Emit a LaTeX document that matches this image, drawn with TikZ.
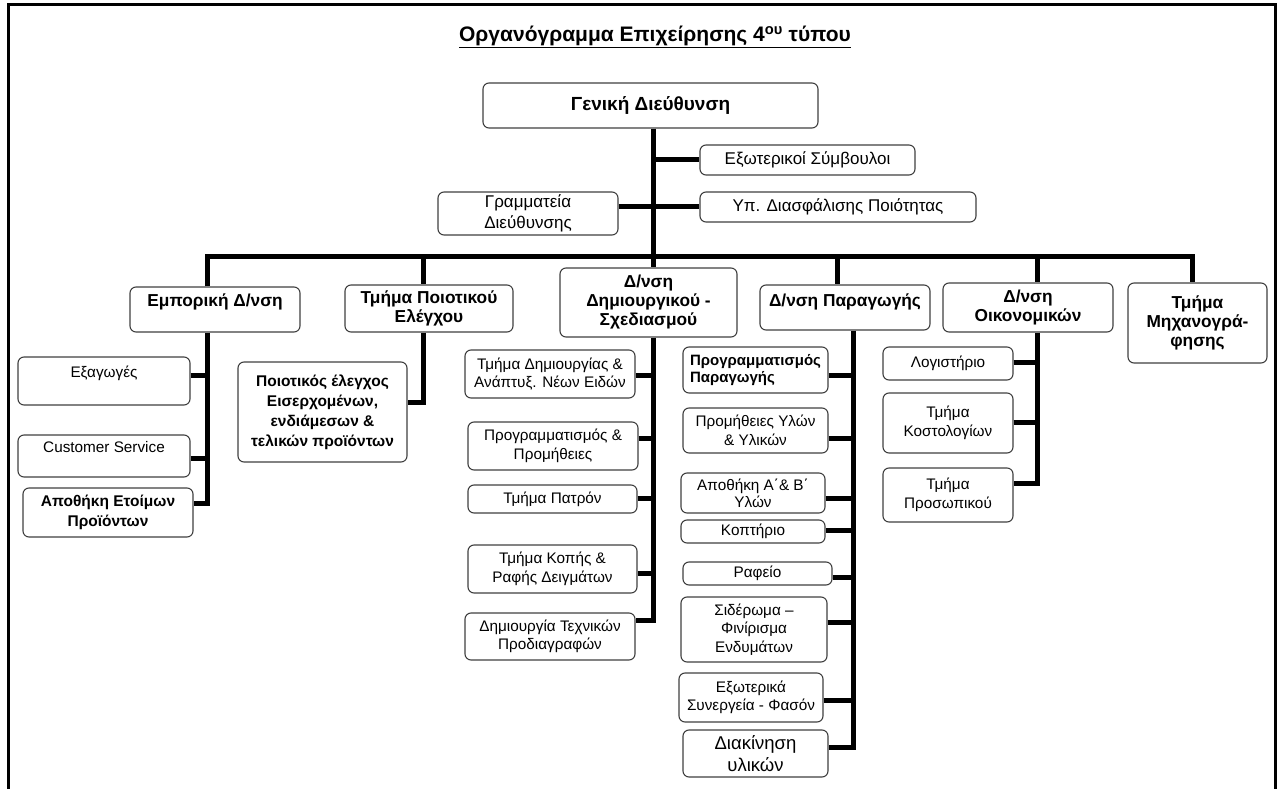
\documentclass[tikz,border=0pt]{standalone}
\usepackage{fontspec}
\setmainfont{Liberation Sans}
\begin{document}
\begin{tikzpicture}[
    x=1pt, y=-1pt,
    box/.style={draw=black!75, line width=1.1pt, rounded corners=6pt, fill=white, inner sep=2pt, align=center, font=\fontsize{15.3}{18.5}\selectfont},
    topbox/.style={box, font=\fontsize{17}{21}\selectfont},
    dept/.style={box, font=\bfseries\fontsize{17.3}{19}\selectfont},
    bunit/.style={box, font=\bfseries\fontsize{15.5}{20}\selectfont},
    conn/.style={line width=5pt},
    uptext/.style={text depth=#1}
  ]

  \useasboundingbox (0,0) rectangle (1278,789);
  \draw[line width=3pt] (8,789) -- (8,5) -- (1275,5) -- (1275,789);

  \node[font=\bfseries\fontsize{21}{24}\selectfont] (title) at (655,37) {\underline{Οργανόγραμμα Επιχείρησης 4\textsuperscript{ου} τύπου}};

  % top of the chart
  \node[box, font=\bfseries\fontsize{19}{21}\selectfont, minimum width=335, minimum height=45] (gd) at (650.5,105.5) {Γενική Διεύθυνση};
  \node[topbox, minimum width=215, minimum height=30] (ext) at (807.5,160) {Εξωτερικοί Σύμβουλοι};
  \node[topbox, minimum width=276, minimum height=30] (ypd) at (838,207) {Υπ. Διασφάλισης Ποιότητας};
  \node[topbox, minimum width=180, minimum height=43] (gram) at (528,213.5) {Γραμματεία\\Διεύθυνσης};

  % departments
  \node[dept, uptext=18.6pt, minimum width=170, minimum height=45] (emp) at (215,309.5) {Εμπορική Δ/νση};
  \node[dept, minimum width=168, minimum height=47] (poi) at (429,308.5) {Τμήμα Ποιοτικού\\Ελέγχου};
  \node[dept, minimum width=177, minimum height=69] (dim) at (648.5,302.5) {Δ/νση\\Δημιουργικού -\\Σχεδιασμού};
  \node[dept, uptext=14.6pt, minimum width=170, minimum height=45] (par) at (845,307.5) {Δ/νση Παραγωγής};
  \node[dept, minimum width=170, minimum height=49] (oik) at (1028,307.5) {Δ/νση\\Οικονομικών};
  \node[dept, minimum width=139, minimum height=80] (mix) at (1197.5,323) {Τμήμα\\Μηχανογρά-\\φησης};

  % Εμπορική Δ/νση
  \node[box, uptext=19pt, minimum width=172, minimum height=48] (exag) at (104,381) {Εξαγωγές};
  \node[box, uptext=18pt, minimum width=172, minimum height=42] (cust) at (104,456) {Customer Service};
  \node[bunit, minimum width=170, minimum height=49] (apoth) at (108,512.5) {Αποθήκη Ετοίμων\\Προϊόντων};

  % Τμήμα Ποιοτικού Ελέγχου
  \node[bunit, minimum width=169, minimum height=100] (pk) at (322.5,412) {Ποιοτικός έλεγχος\\Εισερχομένων,\\ενδιάμεσων \&\\τελικών προϊόντων};

  % Δ/νση Δημιουργικού - Σχεδιασμού
  \node[box, minimum width=170, minimum height=48] (dimi) at (550,374) {Τμήμα Δημιουργίας \&\\Ανάπτυξ. Νέων Ειδών};
  \node[box, minimum width=170, minimum height=48] (prog) at (553,446) {Προγραμματισμός \&\\Προμήθειες};
  \node[box, minimum width=169, minimum height=28] (patr) at (552.5,499) {Τμήμα Πατρόν};
  \node[box, minimum width=169, minimum height=48] (kop) at (552.5,569) {Τμήμα Κοπής \&\\Ραφής Δειγμάτων};
  \node[box, minimum width=170, minimum height=47] (tech) at (550,636.5) {Δημιουργία Τεχνικών\\Προδιαγραφών};

  % Δ/νση Παραγωγής
  \node[bunit, font=\bfseries\fontsize{15}{17}\selectfont, align=left, minimum width=145, minimum height=46] (pp) at (755.5,370) {Προγραμματισμός\\Παραγωγής};
  \node[box, minimum width=145, minimum height=45] (prom) at (755.5,430.5) {Προμήθειες Υλών\\\& Υλικών};
  \node[box, font=\fontsize{15.3}{17}\selectfont, minimum width=144, minimum height=40] (apab) at (753,493) {Αποθήκη Α΄\& Β΄\\Υλών};
  \node[box, minimum width=144, minimum height=23] (kopt) at (753,531.5) {Κοπτήριο};
  \node[box, minimum width=149, minimum height=23] (raf) at (757.5,573.5) {Ραφείο};
  \node[box, minimum width=146, minimum height=65] (sid) at (754,629.5) {Σιδέρωμα –\\Φινίρισμα\\Ενδυμάτων};
  \node[box, minimum width=144, minimum height=49] (exw) at (751,697.5) {Εξωτερικά\\Συνεργεία - Φασόν};
  \node[box, font=\fontsize{18.5}{22}\selectfont, minimum width=145, minimum height=47] (diak) at (755.5,753.5) {Διακίνηση\\υλικών};

  % Δ/νση Οικονομικών
  \node[box, minimum width=130, minimum height=33] (log) at (948,363.5) {Λογιστήριο};
  \node[box, minimum width=130, minimum height=60] (kost) at (948,423) {Τμήμα\\Κοστολογίων};
  \node[box, minimum width=130, minimum height=54] (pros) at (948,495) {Τμήμα\\Προσωπικού};

  % connectors
  \coordinate (tr) at (653,256);
  \coordinate (b1) at (207,256);
  \coordinate (b2) at (423,256);
  \coordinate (b4) at (837,256);
  \coordinate (b5) at (1037,256);
  \coordinate (b6) at (1192,256);

  \draw[conn] (gd.south -| tr) -- (tr);
  \draw[conn] (ext.west -| tr) -- (ext.west);
  \draw[conn] (gram.east |- ypd.west) -- (ypd.west);
  \draw[conn] (b1 |- emp.north) -- (b1) -- (b6) -- (b6 |- mix.north);
  \draw[conn] (b2) -- (b2 |- poi.north);
  \draw[conn] (tr) -- (tr |- dim.north);
  \draw[conn] (b4) -- (b4 |- par.north);
  \draw[conn] (b5) -- (b5 |- oik.north);

  \coordinate (e1) at (207,375);
  \coordinate (e2) at (207,458);
  \coordinate (e3) at (207,503);
  \draw[conn] (emp.south -| e1) -- (e3) -- (apoth.east |- e3);
  \draw[conn] (exag.east |- e1) -- (e1);
  \draw[conn] (cust.east |- e2) -- (e2);

  \coordinate (q1) at (423,402);
  \draw[conn] (poi.south -| q1) -- (q1) -- (pk.east |- q1);

  \coordinate (d1) at (653,375);
  \coordinate (d2) at (653,438);
  \coordinate (d3) at (653,498);
  \coordinate (d4) at (653,573);
  \coordinate (d5) at (653,620);
  \draw[conn] (dim.south -| d1) -- (d5) -- (tech.east |- d5);
  \draw[conn] (dimi.east |- d1) -- (d1);
  \draw[conn] (prog.east |- d2) -- (d2);
  \draw[conn] (patr.east |- d3) -- (d3);
  \draw[conn] (kop.east |- d4) -- (d4);

  \coordinate (p1) at (853,375);
  \coordinate (p2) at (853,438);
  \coordinate (p3) at (853,498);
  \coordinate (p4) at (853,530);
  \coordinate (p5) at (853,577);
  \coordinate (p6) at (853,622);
  \coordinate (p7) at (853,700);
  \coordinate (p8) at (853,747);
  \draw[conn] (par.south -| p1) -- (p8) -- (diak.east |- p8);
  \draw[conn] (pp.east |- p1) -- (p1);
  \draw[conn] (prom.east |- p2) -- (p2);
  \draw[conn] (apab.east |- p3) -- (p3);
  \draw[conn] (kopt.east |- p4) -- (p4);
  \draw[conn] (raf.east |- p5) -- (p5);
  \draw[conn] (sid.east |- p6) -- (p6);
  \draw[conn] (exw.east |- p7) -- (p7);

  \coordinate (o1) at (1037,362);
  \coordinate (o2) at (1037,422);
  \coordinate (o3) at (1037,483);
  \draw[conn] (oik.south -| o1) -- (o3) -- (pros.east |- o3);
  \draw[conn] (log.east |- o1) -- (o1);
  \draw[conn] (kost.east |- o2) -- (o2);

\end{tikzpicture}
\end{document}
